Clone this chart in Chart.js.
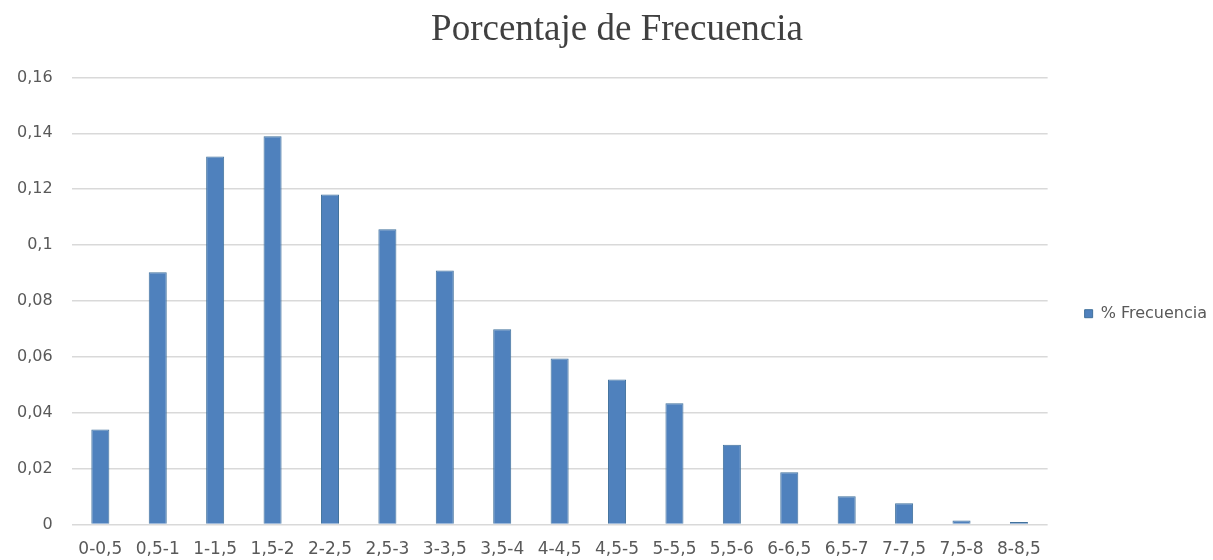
<!DOCTYPE html>
<html>
<head>
<meta charset="utf-8">
<title>Porcentaje de Frecuencia</title>
<script src="https://cdn.jsdelivr.net/npm/chart.js@4.4.1/dist/chart.umd.min.js"></script>
<style>
    html, body { margin: 0; padding: 0; background: #ffffff; }
    #wrap { width: 1213px; height: 560px; position: relative; }
</style>
</head>
<body>
<div id="wrap"><canvas id="freqChart"></canvas></div>
<script>
// ---- DATA ----
const categories = ['0-0,5', '0,5-1', '1-1,5', '1,5-2', '2-2,5', '2,5-3', '3-3,5', '3,5-4', '4-4,5',
    '4,5-5', '5-5,5', '5,5-6', '6-6,5', '6,5-7', '7-7,5', '7,5-8', '8-8,5'];
const frecuencia = [0.034, 0.0903, 0.1317, 0.1389, 0.1181, 0.1057, 0.0909, 0.0699, 0.0594,
    0.0519, 0.0434, 0.0286, 0.0187, 0.0101, 0.0076, 0.0015, 0.0009];
const yTickLabels = ['0', '0,02', '0,04', '0,06', '0,08', '0,1', '0,12', '0,14', '0,16'];

// ---- STYLE ----
const barFill = '#4f81bd';
const barEdge = '#41719c';
const gridGray = '#d9d9d9';
const labelGray = '#595959';
const sansFont = "'DejaVu Sans', sans-serif";

Chart.defaults.font.family = sansFont;
Chart.defaults.color = labelGray;

new Chart(document.getElementById('freqChart'), {
    type: 'bar',
    data: {
        labels: categories,
        datasets: [{
            label: '% Frecuencia',
            data: frecuencia,
            backgroundColor: barFill,
            borderColor: barEdge,
            borderWidth: 1,
            barPercentage: 0.314,
            categoryPercentage: 1.0
        }]
    },
    options: {
        responsive: true,
        maintainAspectRatio: false,
        animation: false,
        devicePixelRatio: 1,
        layout: { padding: { left: 17, right: -4, top: 0, bottom: 0 } },
        plugins: {
            title: {
                display: true,
                text: 'Porcentaje de Frecuencia',
                color: '#404040',
                font: { family: "'Liberation Serif', serif", size: 37, weight: 'normal' },
                padding: { top: 8, bottom: 25 }
            },
            legend: {
                display: true,
                position: 'right',
                // empty legend title only pushes the entry down to Excel's spot
                title: { display: true, text: ' ', padding: { top: 53, bottom: 0 } },
                labels: {
                    boxWidth: 8,
                    boxHeight: 8,
                    padding: 37,
                    color: labelGray,
                    font: { family: sansFont, size: 16 }
                }
            },
            tooltip: { enabled: false }
        },
        scales: {
            x: {
                // hidden grid, the tick length only spaces the labels down
                grid: { display: false, drawTicks: true, tickLength: 15 },
                border: { display: false },
                ticks: {
                    padding: 0,
                    maxRotation: 0,
                    autoSkip: false,
                    color: labelGray,
                    font: { size: 17 }
                }
            },
            y: {
                min: 0,
                max: 0.16,
                // invisible tick marks give the label gap (tick padding counts twice)
                grid: { color: gridGray, lineWidth: 1.5, drawTicks: true, tickLength: 19, tickColor: 'rgba(0,0,0,0)' },
                border: { display: false },
                ticks: {
                    stepSize: 0.02,
                    padding: 0,
                    color: labelGray,
                    font: { size: 16 },
                    callback: (v, i) => yTickLabels[i]
                }
            }
        }
    }
});
</script>
</body>
</html>
